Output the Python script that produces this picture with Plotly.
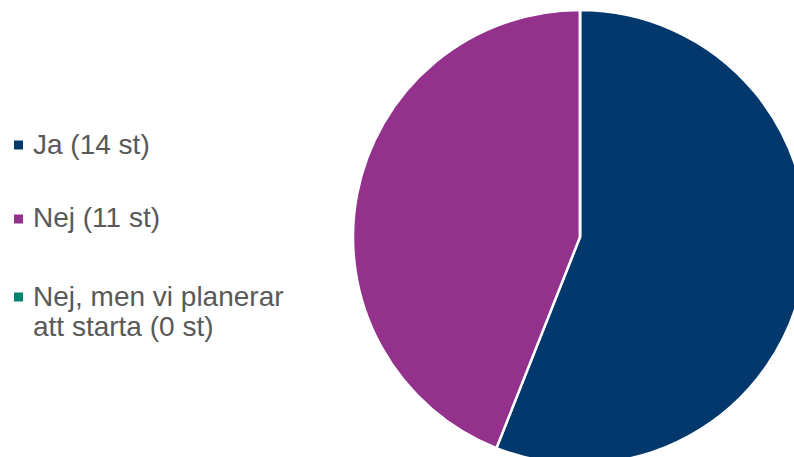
import plotly.graph_objects as go

# Survey answers
labels = ["Ja", "Nej", "Nej, men vi planerar att starta"]
counts = [14, 11, 0]
colors = ["#03386D", "#93318D", "#00846E"]

# Legend text, with the long answer broken over two lines
legend_lines = [
    ["Ja (14 st)"],
    ["Nej (11 st)"],
    ["Nej, men vi planerar", "att starta (0 st)"],
]

W, H = 830, 480  # canvas is larger than the view so the pie runs off the edge


def px_x(x):
    return x / W


def px_y(y):
    return 1 - y / H


fig = go.Figure(
    go.Pie(
        labels=labels,
        values=counts,
        sort=False,
        direction="clockwise",
        rotation=0,
        marker=dict(colors=colors, line=dict(color="white", width=2.5)),
        textinfo="none",
        hoverinfo="label+value",
        showlegend=False,
        domain=dict(x=[px_x(353), px_x(807)], y=[px_y(464), px_y(10)]),
    )
)

# Hand-placed legend with generous spacing
row_tops = [145, 219, 297]
line_gap = 30
shapes = []
annotations = []
for lines, col, yc in zip(legend_lines, colors, row_tops):
    shapes.append(
        dict(
            type="rect", xref="paper", yref="paper",
            x0=px_x(14), x1=px_x(23), y0=px_y(yc + 4.5), y1=px_y(yc - 4.5),
            fillcolor=col, line=dict(width=0),
        )
    )
    for i, line in enumerate(lines):
        annotations.append(
            dict(
                text=line, xref="paper", yref="paper",
                x=px_x(31), y=px_y(yc + i * line_gap - 1),
                xanchor="left", yanchor="middle",
                align="left", showarrow=False,
                font=dict(family="Liberation Sans, Arial", size=28, color="#595959"),
            )
        )

fig.update_layout(
    width=W, height=H,
    margin=dict(l=0, r=0, t=0, b=0),
    paper_bgcolor="white",
    plot_bgcolor="white",
    shapes=shapes,
    annotations=annotations,
)

fig.write_html(
    "out.html",
    post_script=(
        "document.body.style.margin='0';"
        "document.body.style.overflow='hidden';"
        "document.documentElement.style.overflow='hidden';"
    ),
)
